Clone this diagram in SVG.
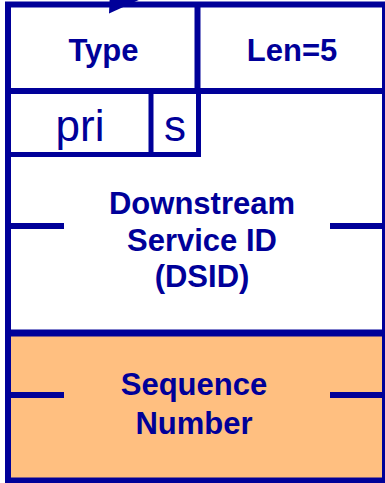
<svg xmlns="http://www.w3.org/2000/svg" width="385" height="483" viewBox="0 0 385 483">
  <style>
    .ln { stroke: #000099; stroke-width: 6; fill: none; stroke-linecap: butt; }
    .lbl { font-family: "Liberation Sans", Arial, sans-serif; font-weight: bold; font-size: 31px; fill: #000099; text-anchor: middle; }
    .fld { font-family: "Liberation Sans", Arial, sans-serif; font-size: 44px; fill: #000099; text-anchor: middle; }
  </style>
  <rect width="385" height="483" fill="#ffffff"/>

  <!-- sequence number field background -->
  <rect id="seq-bg" x="8" y="333" width="377" height="147" fill="#ffbf80"/>

  <!-- incoming arrowhead at the top edge -->
  <g id="connectors">
    <polygon points="109,13.5 141,-1 110,-9" fill="#000099"/>
  </g>

  <!-- outer frame -->
  <g id="frame">
    <rect class="ln" x="8" y="4.5" width="377" height="476"/>
  </g>

  <g id="type">
    <line class="ln" x1="197.5" y1="4.5" x2="197.5" y2="91"/>
    <text class="lbl" x="103.5" y="60.5">Type</text>
  </g>

  <g id="len">
    <text class="lbl" x="292" y="60.5">Len=5</text>
  </g>

  <line class="ln" x1="8" y1="91" x2="385" y2="91"/>

  <g id="pri">
    <line class="ln" style="stroke-width:5" x1="8" y1="154.5" x2="200.5" y2="154.5"/>
    <line class="ln" style="stroke-width:5" x1="151" y1="91" x2="151" y2="154.5"/>
    <text class="fld" x="80" y="141">pri</text>
  </g>

  <g id="s">
    <line class="ln" style="stroke-width:5" x1="198.5" y1="91" x2="198.5" y2="157"/>
    <text class="fld" x="175" y="141">s</text>
  </g>

  <g id="dsid">
    <line class="ln" x1="8" y1="226" x2="64" y2="226"/>
    <line class="ln" x1="330" y1="226" x2="385" y2="226"/>
    <text class="lbl" x="202" y="213.5">Downstream</text>
    <text class="lbl" x="202" y="250.5">Service ID</text>
    <text class="lbl" x="202" y="287">(DSID)</text>
  </g>

  <line class="ln" style="stroke-width:7" x1="8" y1="333" x2="385" y2="333"/>

  <g id="sequence">
    <line class="ln" x1="8" y1="395" x2="64" y2="395"/>
    <line class="ln" x1="330" y1="395" x2="385" y2="395"/>
    <text class="lbl" x="194" y="394.5">Sequence</text>
    <text class="lbl" x="194" y="433.5">Number</text>
  </g>
</svg>
